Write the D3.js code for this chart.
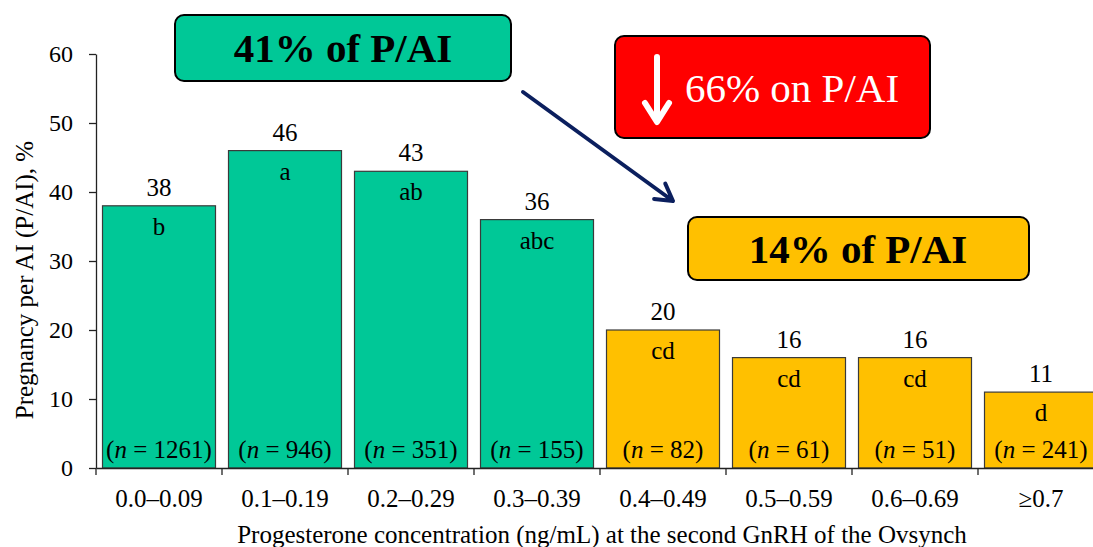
<!DOCTYPE html>
<html>
<head>
<meta charset="utf-8">
<script src="https://cdn.jsdelivr.net/npm/d3@7"></script>
<style>
  html, body { margin: 0; padding: 0; background: #fff; }
  svg { display: block; font-family: "Liberation Serif", "Times New Roman", serif; }
</style>
</head>
<body>
<svg id="chart" width="1093" height="547"></svg>
<script>
// P/AI by progesterone concentration at the second GnRH of the Ovsynch
const categories = ["0.0–0.09", "0.1–0.19", "0.2–0.29", "0.3–0.39", "0.4–0.49", "0.5–0.59", "0.6–0.69", "≥0.7"];
const pai = [38, 46, 43, 36, 20, 16, 16, 11];
const letters = ["b", "a", "ab", "abc", "cd", "cd", "cd", "d"];
const counts = [1261, 946, 351, 155, 82, 61, 51, 241];
const group = ["low", "low", "low", "low", "high", "high", "high", "high"];
const yTicks = [0, 10, 20, 30, 40, 50, 60];

const colors = { low: "#00C897", high: "#FFC000" };

const svg = d3.select("#chart");
const plotLeft = 96, plotRight = 1104, plotTop = 54, plotBottom = 468;

const x = d3.scaleBand().domain(categories).range([plotLeft, plotRight])
  .paddingInner(13 / 126).paddingOuter(6.5 / 126);
const y = d3.scaleLinear().domain([0, 60]).range([plotBottom, plotTop]);

// Y axis
const yAxis = svg.append("g")
  .attr("transform", `translate(${plotLeft},0)`)
  .call(d3.axisLeft(y).tickValues(yTicks).tickSize(7).tickPadding(16).tickSizeOuter(0));
yAxis.selectAll("text").attr("font-size", 24).attr("font-family", "Liberation Serif").attr("fill", "#000");
yAxis.selectAll("line, path").attr("stroke", "#222").attr("stroke-width", 1.3);

// Bars
const data = categories.map((c, i) => ({ c, v: pai[i], l: letters[i], n: counts[i], g: group[i] }));
const bars = svg.append("g");
bars.selectAll("rect").data(data).join("rect")
  .attr("x", d => x(d.c))
  .attr("y", d => y(d.v))
  .attr("width", x.bandwidth())
  .attr("height", d => y(0) - y(d.v))
  .attr("fill", d => colors[d.g])
  .attr("stroke", "#3a3a3a")
  .attr("stroke-width", 1.2);

// Value above each bar
bars.selectAll("text.val").data(data).join("text")
  .attr("class", "val")
  .attr("x", d => x(d.c) + x.bandwidth() / 2)
  .attr("y", d => y(d.v) - 10)
  .attr("text-anchor", "middle")
  .attr("font-size", 25)
  .text(d => d.v);

// Significance letters inside each bar
bars.selectAll("text.let").data(data).join("text")
  .attr("class", "let")
  .attr("x", d => x(d.c) + x.bandwidth() / 2)
  .attr("y", d => y(d.v) + 29)
  .attr("text-anchor", "middle")
  .attr("font-size", 25)
  .text(d => d.l);

// Sample sizes at the base of each bar
const nText = bars.selectAll("text.n").data(data).join("text")
  .attr("class", "n")
  .attr("x", d => x(d.c) + x.bandwidth() / 2)
  .attr("y", plotBottom - 10)
  .attr("text-anchor", "middle")
  .attr("font-size", 25);
nText.append("tspan").text("(");
nText.append("tspan").attr("font-style", "italic").text("n");
nText.append("tspan").text(d => " = " + d.n + ")");

// X axis: labels centred, ticks on category boundaries
const xAxis = svg.append("g")
  .attr("transform", `translate(0,${plotBottom})`)
  .call(d3.axisBottom(x).tickSize(0).tickPadding(21).tickSizeOuter(0));
xAxis.select("path").attr("stroke", "#222").attr("stroke-width", 1.3);
xAxis.selectAll("text").attr("font-size", 25).attr("font-family", "Liberation Serif").attr("fill", "#000");
const step = x.step();
const bounds = categories.map(c => x(c) - step * x.paddingInner() / 2);
xAxis.selectAll("line.bound").data(bounds).join("line")
  .attr("class", "bound")
  .attr("x1", d => d).attr("x2", d => d)
  .attr("y1", 0).attr("y2", 7)
  .attr("stroke", "#222").attr("stroke-width", 1.3);

// Axis titles
svg.append("text")
  .attr("x", 602).attr("y", 543)
  .attr("text-anchor", "middle")
  .attr("font-size", 25)
  .text("Progesterone concentration (ng/mL) at the second GnRH of the Ovsynch");
svg.append("text")
  .attr("transform", "translate(33,280) rotate(-90)")
  .attr("text-anchor", "middle")
  .attr("font-size", 25)
  .text("Pregnancy per AI (P/AI), %");

// Call-out boxes
function box(x0, y0, w, h, fill) {
  svg.append("rect")
    .attr("x", x0).attr("y", y0).attr("width", w).attr("height", h)
    .attr("rx", 9).attr("ry", 9)
    .attr("fill", fill).attr("stroke", "#000").attr("stroke-width", 2);
}
box(175, 15, 336, 66, colors.low);
svg.append("text").attr("x", 343).attr("y", 62).attr("text-anchor", "middle")
  .attr("font-size", 41).attr("font-weight", "bold").text("41% of P/AI");

box(615, 36, 315, 102, "#FF0000");
svg.append("text").attr("x", 792).attr("y", 102).attr("text-anchor", "middle")
  .attr("font-size", 41).attr("fill", "#fff").text("66% on P/AI");
// White down arrow
svg.append("path")
  .attr("d", "M657,57 L657,121 M645,103 L657,122 L669,103")
  .attr("fill", "none").attr("stroke", "#fff").attr("stroke-width", 6)
  .attr("stroke-linecap", "round").attr("stroke-linejoin", "round");

box(688, 217, 341, 63, colors.high);
svg.append("text").attr("x", 858).attr("y", 263).attr("text-anchor", "middle")
  .attr("font-size", 41).attr("font-weight", "bold").text("14% of P/AI");

// Navy arrow linking the two groups
const ax0 = 523, ay0 = 92, ax1 = 673, ay1 = 201;
const ang = Math.atan2(ay1 - ay0, ax1 - ax0);
const hl = 19, ha = Math.PI / 6;
const w1 = [ax1 - hl * Math.cos(ang - ha), ay1 - hl * Math.sin(ang - ha)];
const w2 = [ax1 - hl * Math.cos(ang + ha), ay1 - hl * Math.sin(ang + ha)];
svg.append("path")
  .attr("d", `M${ax0},${ay0} L${ax1},${ay1} M${w1[0]},${w1[1]} L${ax1},${ay1} L${w2[0]},${w2[1]}`)
  .attr("fill", "none").attr("stroke", "#0B1F5E").attr("stroke-width", 4)
  .attr("stroke-linecap", "round").attr("stroke-linejoin", "round");
</script>
</body>
</html>
